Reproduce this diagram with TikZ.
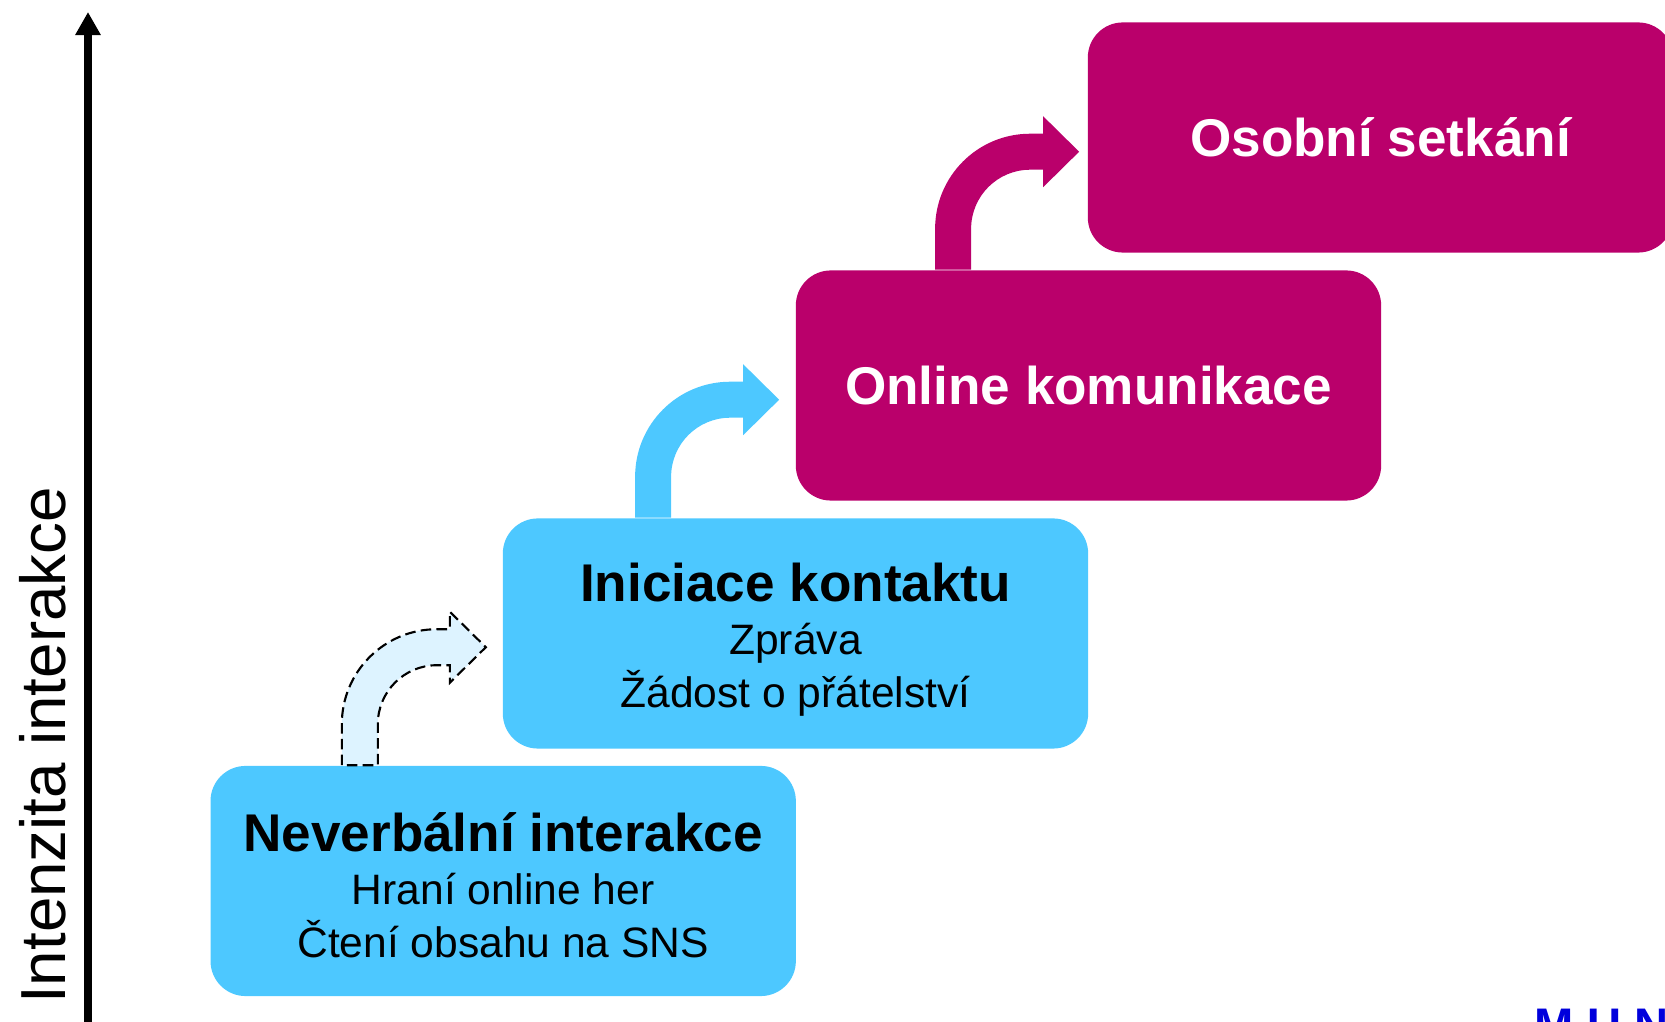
\documentclass[tikz,border=0pt]{standalone}
\usepackage{fontspec}
\setmainfont{Liberation Sans}
\usepackage{tikz}
\usetikzlibrary{arrows.meta}
\definecolor{stageblue}{RGB}{77,200,255}
\definecolor{stagemagenta}{RGB}{186,0,107}
\definecolor{arrowpale}{RGB}{221,243,255}
\definecolor{muniblue}{RGB}{0,0,220}
\tikzset{
	stage/.style={rounded corners=.35cm,minimum width=5.85cm,minimum height=2.3cm,inner sep=0pt,align=center},
	stagelow/.style={stage,fill=stageblue,text=black,font=\fontsize{12.1}{15}\selectfont},
	stagehigh/.style={stage,fill=stagemagenta,text=white,font=\bfseries\fontsize{15.1}{15}\selectfont},
	arrowpalestyle/.style={fill=arrowpale,draw=black,line width=.6pt,dash pattern=on 3pt off 1.5pt},
	arrowbluestyle/.style={fill=stageblue},
	arrowmagentastyle/.style={fill=stagemagenta}
}
\begin{document}
\begin{tikzpicture}[x=.01cm,y=-.01cm]
			\useasboundingbox (0,0) rectangle (1665,1022);
			\coordinate (osadole) at (88,1022);
			\coordinate (osanahore) at (88,12);
			\draw[line width=.08cm,-{Triangle[length=.23cm,width=.24cm]}] (osadole) -- (osanahore);
			\node[rotate=90,anchor=base,inner sep=0pt,font=\fontsize{18.1}{20}\selectfont] (osa) at (66,745.5) {Intenzita interakce};
			\node[stagelow] (neverbal) at (503.2,881) {{\fontsize{15.1}{15}\selectfont\bfseries\rule{0pt}{13.5pt}Neverbální interakce}\\Hraní online her\\Čtení obsahu na SNS};
			\node[stagelow] (iniciace) at (795.5,633.5) {{\fontsize{15.1}{15}\selectfont\bfseries\rule{0pt}{14.6pt}Iniciace kontaktu}\\Zpráva\\Žádost o přátelství};
			\node[stagehigh] (online) at (1088.5,385.5) {Online komunikace};
			\node[stagehigh] (setkani) at (1380.5,137.5) {Osobní setkání};
			\foreach \nd/\dx/\look in {neverbal/132/arrowpalestyle,iniciace/133/arrowbluestyle,online/140/arrowmagentastyle} {
				\begin{scope}[shift={(\nd.north west)},xshift={\dx*.01cm}]
					\path[\look] (0,0) -- (0,-41) .. controls (0,-93.5) and (42.5,-136) .. (95,-136) -- (108,-136) -- (108,-153.5) -- (144,-118) -- (108,-82.5) -- (108,-100) -- (95,-100) .. controls (62.4,-100) and (36,-73.6) .. (36,-41) -- (36,0) -- cycle;
				\end{scope}
			}
			\node[anchor=base west,inner sep=0pt,text=muniblue,font=\bfseries\fontsize{13.4}{15}\selectfont] (logo) at (1534,1041.5) {M U N I};
		\end{tikzpicture}
\end{document}
